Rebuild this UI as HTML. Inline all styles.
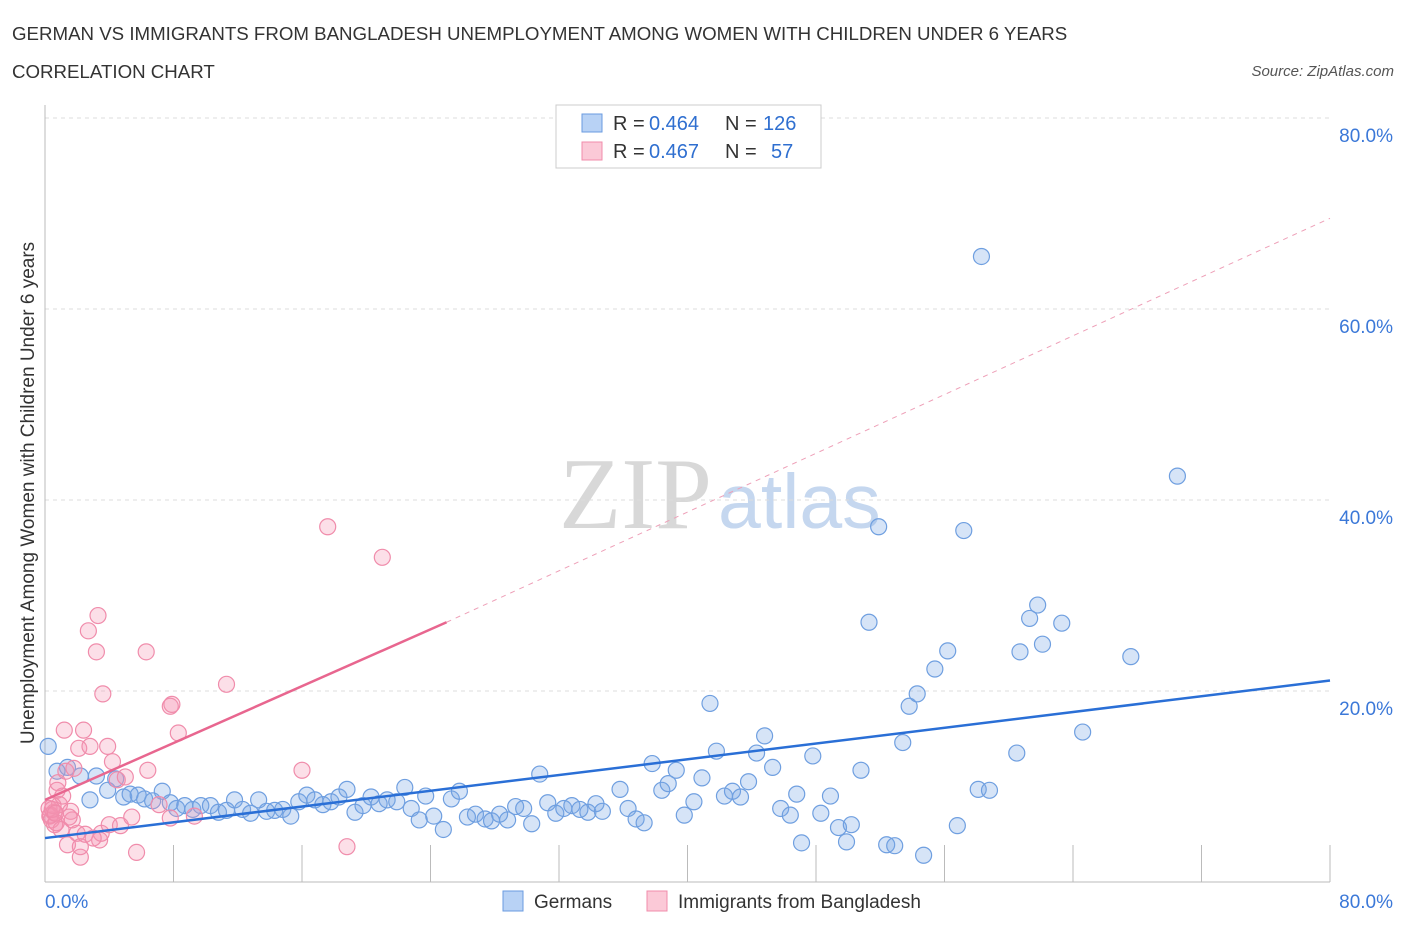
<!DOCTYPE html>
<html><head><meta charset="utf-8"><style>
body{margin:0;background:#fff;font-family:"Liberation Sans",sans-serif;}
</style></head><body>
<svg id="chart" width="1406" height="930" xmlns="http://www.w3.org/2000/svg">
<text x="12" y="40" font-size="18.7" fill="#333">GERMAN VS IMMIGRANTS FROM BANGLADESH UNEMPLOYMENT AMONG WOMEN WITH CHILDREN UNDER 6 YEARS</text>
<text x="12" y="78" font-size="18.7" fill="#333">CORRELATION CHART</text>
<text x="1394" y="76" font-size="15" fill="#555" font-style="italic" text-anchor="end">Source: ZipAtlas.com</text>
<text x="712" y="528" font-size="102" fill="#d8d8d8" font-family="Liberation Serif,serif" text-anchor="end">ZIP</text>
<text x="718" y="528" font-size="77" fill="#c5d7ef" text-anchor="start">atlas</text>
<g id="grid"></g><g id="marks"></g>
<text transform="translate(34,493) rotate(-90)" font-size="19" fill="#333" text-anchor="middle">Unemployment Among Women with Children Under 6 years</text>
<rect x="556" y="105" width="265" height="63" fill="#fff" stroke="#ccc"/>
<rect x="582" y="114" width="20" height="18" fill="#b8d2f5" stroke="#6a9be0"/>
<text x="613" y="130" font-size="20" fill="#333">R =</text>
<text x="649" y="130" font-size="20" fill="#2f6fd0">0.464</text>
<text x="725" y="130" font-size="20" fill="#333">N =</text>
<text x="763" y="130" font-size="20" fill="#2f6fd0">126</text>
<rect x="582" y="142" width="20" height="18" fill="#fbc9d7" stroke="#f08cab"/>
<text x="613" y="158" font-size="20" fill="#333">R =</text>
<text x="649" y="158" font-size="20" fill="#2f6fd0">0.467</text>
<text x="725" y="158" font-size="20" fill="#333">N =</text>
<text x="771" y="158" font-size="20" fill="#2f6fd0">57</text>
<rect x="503" y="891" width="20" height="20" fill="#b8d2f5" stroke="#6a9be0"/>
<text x="534" y="908" font-size="19" fill="#333">Germans</text>
<rect x="647" y="891" width="20" height="20" fill="#fbc9d7" stroke="#f08cab"/>
<text x="678" y="908" font-size="19" fill="#333">Immigrants from Bangladesh</text>
</svg>
<script>
const blueX=[0.2,0.75,1.4,2.2,2.8,3.2,3.9,4.4,4.9,5.3,5.8,6.2,6.7,7.3,7.8,8.2,8.7,9.2,9.7,10.3,10.8,11.3,11.8,12.3,12.8,13.3,13.8,14.3,14.8,15.3,15.8,16.3,16.8,17.3,17.8,18.3,18.8,19.3,19.8,20.3,20.8,21.3,21.9,22.4,22.8,23.3,23.7,24.2,24.8,25.3,25.8,26.3,26.8,27.4,27.8,28.3,28.8,29.3,29.8,30.3,30.8,31.3,31.8,32.3,32.8,33.3,33.8,34.3,34.7,35.8,36.3,36.8,37.3,37.8,38.4,38.8,39.3,39.8,40.4,40.9,41.4,41.8,42.3,42.8,43.3,43.8,44.3,44.8,45.3,45.8,46.4,46.8,47.1,47.8,48.3,48.9,49.4,49.9,50.2,50.8,51.3,51.9,52.4,52.9,53.4,53.8,54.3,54.7,55.4,56.2,56.8,57.2,58.1,58.3,58.8,60.5,60.7,61.3,61.8,62.1,63.3,64.6,67.6,70.5];
const blueY=[14.2,11.6,12.0,11.1,8.6,11.1,9.6,10.8,8.9,9.2,9.1,8.7,8.5,9.5,8.3,7.7,8.0,7.6,8.0,8.0,7.3,7.5,8.6,7.6,7.2,8.6,7.4,7.5,7.6,6.9,8.4,9.1,8.6,8.1,8.4,8.9,9.7,7.3,8.0,8.9,8.2,8.6,8.4,9.9,7.7,6.5,9.0,6.9,5.5,8.7,9.5,6.8,7.1,6.6,6.4,7.1,6.5,7.9,7.7,6.1,11.3,8.3,7.2,7.7,8.0,7.6,7.3,8.2,7.4,9.7,7.7,6.6,6.2,12.4,9.6,10.3,11.7,7.0,8.4,10.9,18.7,13.7,9.0,9.5,8.9,10.5,13.5,15.3,12.0,7.7,7.0,9.2,4.1,13.2,7.2,9.0,5.7,4.2,6.0,11.7,27.2,37.2,3.9,3.8,14.6,18.4,19.7,2.8,22.3,24.2,5.9,36.8,9.7,65.5,9.6,13.5,24.1,27.6,29.0,24.9,27.1,15.7,23.6,42.5];
const pinkX=[0.25,0.3,0.4,0.56,0.6,0.75,0.8,0.9,1.0,1.2,1.3,1.4,1.6,1.7,1.8,2.0,2.1,2.2,2.2,2.4,2.7,2.8,3.2,3.3,3.4,3.5,3.6,3.9,4.0,4.2,4.5,4.7,5.0,5.4,5.7,6.3,6.4,7.1,7.8,7.8,7.9,8.3,9.3,11.3,16.0,17.6,18.8,21.0,0.35,0.5,0.7,1.1,1.5,0.45,2.5,3.0,0.65];
const pinkY=[7.7,6.9,6.5,7.3,6.0,9.6,10.4,8.1,5.5,15.9,11.6,3.9,7.4,6.5,11.9,5.1,14.0,2.6,3.7,15.9,26.3,14.2,24.1,27.9,4.4,5.1,19.7,14.2,6.0,12.6,10.7,5.9,11.0,6.8,3.1,24.1,11.7,8.1,6.7,18.4,18.6,15.6,6.9,20.7,11.7,37.2,3.7,34.0,7.0,8.0,6.2,9.0,6.8,7.6,5.0,4.6,7.2];
const yTicks=[20,40,60,80];
const xTickVals=[0,10,20,30,40,50,60,70,80,90,100];
const blueTrend=[4.6,21.1];
const pinkTrend=[8.6,27.2,25,69.5];
const NS="http://www.w3.org/2000/svg";
const sx=v=>45+v*16.0625, sy=v=>882-v*9.55;
const grid=document.getElementById('grid'), marks=document.getElementById('marks');
function mk(p,tag,a){const e=document.createElementNS(NS,tag);for(const k in a)e.setAttribute(k,a[k]);p.appendChild(e);return e;}
yTicks.forEach(t=>{
 const l=mk(grid,'line',{x1:45,x2:1330,y1:sy(t),y2:sy(t),stroke:'#ddd','stroke-dasharray':'4,4'});
 
 
 const tx=mk(grid,'text',{x:1393,y:sy(t)+24,'font-size':19,fill:'#3b78d8','text-anchor':'end'});
 tx.textContent=t.toFixed(1)+'%';
 
 
});
const ax=mk(grid,'line',{x1:45,x2:1330,y1:882,y2:882,stroke:'#bbb'});


const ay=mk(grid,'line',{x1:45,x2:45,y1:105,y2:882,stroke:'#bbb'});


xTickVals.forEach(t=>{const v=t*0.8;
 const l=mk(grid,'line',{x1:sx(v),x2:sx(v),y1:845,y2:882,stroke:'#bbb'});
 
 
});
const x0=mk(grid,'text',{x:45,y:908,'font-size':19,fill:'#3b78d8'});x0.textContent='0.0%';


const x1=mk(grid,'text',{x:1393,y:908,'font-size':19,fill:'#3b78d8','text-anchor':'end'});x1.textContent='80.0%';


blueX.forEach((x,i)=>{const c=mk(marks,'circle',{cx:sx(x),cy:sy(blueY[i]),r:8,fill:'rgba(120,165,230,0.3)',stroke:'#6f9fe0','stroke-width':1.2});
 
 });
pinkX.forEach((x,i)=>{const c=mk(marks,'circle',{cx:sx(x),cy:sy(pinkY[i]),r:8,fill:'rgba(245,150,180,0.3)',stroke:'#f08cab','stroke-width':1.2});
 
 });
const bl=mk(marks,'line',{x1:sx(0),y1:sy(blueTrend[0]),x2:sx(80),y2:sy(blueTrend[1]),stroke:'#2a6fd6','stroke-width':2.5});


const pl=mk(marks,'line',{x1:sx(0),y1:sy(pinkTrend[0]),x2:sx(pinkTrend[2]),y2:sy(pinkTrend[1]),stroke:'#e8668f','stroke-width':2.5});


const pd=mk(marks,'line',{x1:sx(pinkTrend[2]),y1:sy(pinkTrend[1]),x2:sx(80),y2:sy(pinkTrend[3]),stroke:'#eea0b8','stroke-width':1,'stroke-dasharray':'5,5'});


</script>
</body></html>
